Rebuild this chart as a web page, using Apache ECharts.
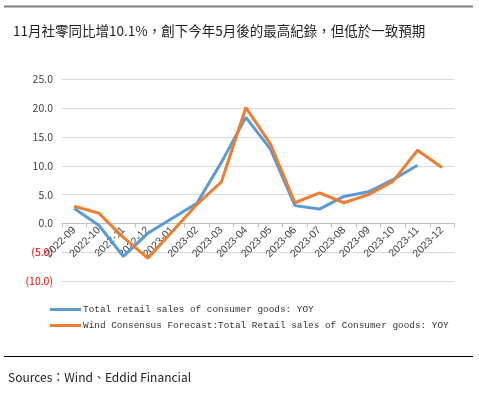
<!DOCTYPE html>
<html><head><meta charset="utf-8">
<script src="https://cdn.jsdelivr.net/npm/echarts@6/dist/echarts.min.js"></script>
<style>html,body{margin:0;padding:0;background:#fff}#c{width:479px;height:395px}</style>
</head><body><div id="c"></div>
<script>
const titleText = '11月社零同比增10.1%，創下今年5月後的最高紀錄，但低於一致預期';
const sourceText = 'Sources：Wind、Eddid Financial';
const categories = ['2022-09','2022-10','2022-11','2022-12','2023-01','2023-02','2023-03','2023-04','2023-05','2023-06','2023-07','2023-08','2023-09','2023-10','2023-11','2023-12'];
const seriesNames = ['Total retail sales of consumer goods: YOY','Wind Consensus Forecast:Total Retail sales of Consumer goods: YOY'];
const retailYoy = [2.6, -0.3, -5.7, -1.7, 0.9, 3.5, 10.6, 18.4, 12.9, 3.1, 2.5, 4.7, 5.5, 7.6, 10.1, null];
const forecastYoy = [3.0, 1.8, -2.4, -6.0, -1.4, 3.3, 7.2, 20.1, 13.8, 3.6, 5.3, 3.6, 5.0, 7.3, 12.7, 9.7];

const yMin = -10, yMax = 25;
const gridTop = 79.3, gridBottomPx = 281.2;
const zeroOffset = -(gridBottomPx - (gridTop + (gridBottomPx - gridTop) * (yMax - 0) / (yMax - yMin)));

const chart = echarts.init(document.getElementById('c'), null, {renderer:'canvas'});
chart.setOption({
  animation:false,
  backgroundColor:'#fff',
  title:{text:titleText,left:8,top:19,textStyle:{fontFamily:'Noto Sans CJK TC',fontSize:13.5,fontWeight:'normal',color:'#222'}},
  graphic:[
    {type:'line',shape:{x1:4,y1:6.5,x2:473,y2:6.5},style:{stroke:'#808080',lineWidth:2}},
    {type:'line',shape:{x1:4,y1:356.5,x2:473,y2:356.5},style:{stroke:'#000',lineWidth:1}},
    {type:'text',left:8,top:371,style:{text:sourceText,font:'12px "Noto Sans CJK TC"',fill:'#222'}}
  ],
  legend:{orient:'vertical',left:45,top:300,itemWidth:31,itemHeight:3,itemGap:7,icon:'rect',
    textStyle:{fontFamily:'Liberation Mono',fontSize:9.4,color:'#333',padding:[0,0,0,-3]},
    data:seriesNames},
  grid:{left:62,right:24.7,top:gridTop,bottom:395-gridBottomPx,containLabel:false},
  xAxis:{type:'category',data:categories,boundaryGap:true,offset:zeroOffset,
    axisLine:{onZero:false,lineStyle:{color:'#bfbfbf',width:1}},
    axisTick:{show:true,length:4,lineStyle:{color:'#bfbfbf'}},
    axisLabel:{rotate:45,interval:0,margin:5,fontFamily:'Liberation Sans',fontSize:10.5,color:'#404040'},
    splitLine:{show:false}},
  yAxis:{type:'value',min:yMin,max:yMax,interval:5,
    axisLine:{show:false},axisTick:{show:false},
    splitLine:{lineStyle:{color:'#d9d9d9',width:1}},
    axisLabel:{margin:9,fontFamily:'Noto Sans CJK SC',fontSize:10.5,
      formatter:function(v){return v<0?'{neg|('+Math.abs(v).toFixed(1)+')}':'{pos|'+v.toFixed(1)+'}';},
      rich:{neg:{color:'#ff0000',fontFamily:'Noto Sans CJK SC',fontSize:10.5},pos:{color:'#404040',fontFamily:'Noto Sans CJK SC',fontSize:10.5}}}},
  series:[
    {name:seriesNames[0],type:'line',data:retailYoy,symbol:'none',lineStyle:{width:3,color:'#5b9bd5'},itemStyle:{color:'#5b9bd5'},z:2},
    {name:seriesNames[1],type:'line',data:forecastYoy,symbol:'none',lineStyle:{width:3,color:'#ed7d31'},itemStyle:{color:'#ed7d31'},z:3}
  ]
});
</script></body></html>
